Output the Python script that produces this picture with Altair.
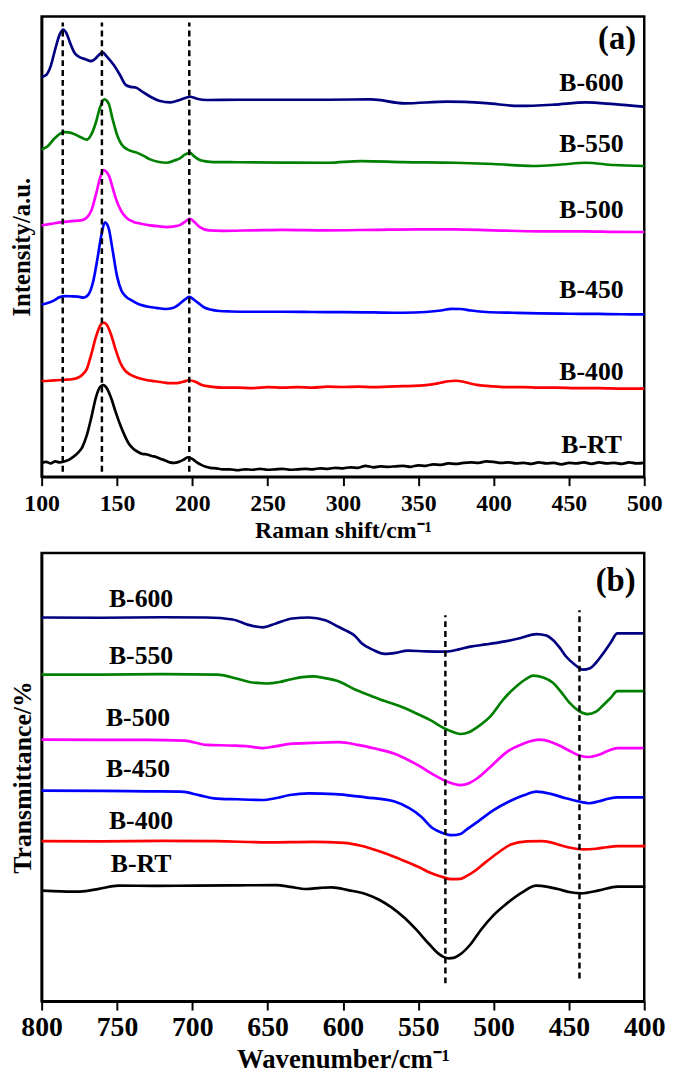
import altair as alt
import pandas as pd

series_names = ["B-RT", "B-400", "B-450", "B-500", "B-550", "B-600"]
series_colors = ["#000000", "#ff0000", "#0000ff", "#ff00ff", "#008000", "#000080"]

# ---------------- (a) Raman spectra: (Raman shift, intensity a.u. incl. offset) ----------------
raman_brt = [(100,14),(103,15),(106,13.5),(109,15.5),(112,14.5),(115,15.5),(118,17),(121,20),(124,24),(127,30),
             (130,42),(133,60),(136,80),(139,91),(141,92.5),(143,90),(146,80),(149,66),(152,53),(155,42),(158,33),
             (161,28),(164,25),(167,23),(170,22.5),(173,21),(176,20),(179,18),(182,16.5),(185,14.5),(188,14),
             (191,15),(194,17),(197,19.5),(200,18),(203,14.5),(206,12),(209,10),(212,9),(216,8.5),(220,7.5),
             (225,7.5),(230,6.5),(235,7.5),(240,7),(245,8),(250,7),(255,7.5),(260,8),(265,7),(270,7.5),(275,8),
             (280,7.5),(285,8.5),(290,8),(295,9),(300,8.5),(305,9.5),(310,9),(315,11),(320,9.5),(325,10.5),
             (330,10),(335,10.5),(340,11),(345,10),(350,11.5),(355,11),(360,12.5),(365,12),(370,13.5),(375,13),
             (380,14),(385,14.5),(390,14),(395,15.5),(400,15),(405,14),(410,14.5),(415,13.5),(420,14),(425,13),
             (430,14.5),(435,13.5),(440,14),(445,12.5),(450,14),(455,13.5),(460,14.5),(465,13),(470,14.5),
             (475,13.5),(480,14),(485,13),(490,14.5),(495,13.5),(500,14)]
raman_b400 = [(100,96.7),(105,97),(110,97.5),(115,98),(120,98.5),(124,100),(127,103),(130,109),(133,124),(136,141),
              (139,153),(141,155.7),(143,154),(146,144),(149,129),(152,116),(155,108),(158,104),(162,101),(166,99),
              (170,97.5),(175,96.5),(180,95.5),(185,94.5),(190,94.5),(194,96),(198,97.5),(202,96),(206,93),
              (210,91.5),(215,90.5),(220,90),(230,90),(240,89.5),(250,90.5),(260,90),(270,90.5),(280,90),(290,91),
              (300,90.7),(310,91),(320,90.5),(330,91),(340,91.5),(350,92),(358,93),(365,95),(370,96.5),(375,97),
              (380,96),(385,94),(390,92.5),(400,91.3),(410,90.5),(420,90.5),(430,90),(442,90),(455,89.5),
              (470,89.5),(485,89),(500,89)]
raman_b450 = [(100,174),(104,175.5),(108,178),(112,181.5),(116,182.5),(120,182.3),(124,182),(128,181),(131,184),
              (134,196),(137,220),(139.5,243),(142,257),(144.5,251),(147,230),(150,203),(153,188),(156,182),
              (160,178),(165,174),(170,172),(176,170.7),(182,169.5),(187,170.5),(191,174),(195,179),(198,181.7),
              (201,179),(204,175.5),(208,171),(212,169),(218,167.5),(225,167),(240,166.7),(260,166.7),(280,166.5),
              (300,166.3),(320,166),(340,165.7),(355,166.5),(365,168),(372,169.7),(378,169.5),(385,168),
              (395,166.5),(413,165.7),(430,165),(450,164.7),(470,164.5),(485,164.2),(500,164)]
raman_b500 = [(100,254),(106,255.5),(113,257.3),(120,258.3),(126,259),(130,262),(133,269),(136,285),(139,303),
              (141.2,310),(143,308),(145,303),(147.5,290),(150,278),(153,268),(157,260.7),(161,257.5),(166,255.7),
              (172,254),(178,253),(183,252.3),(188,253),(192,254.5),(195,257.5),(198.5,260.7),(201,258),
              (205,252.3),(211,249),(220,248.5),(240,249),(260,249.5),(290,249),(320,249.5),(350,250),(374,250),
              (400,249),(430,248),(460,248),(480,247.5),(500,247.3)]
raman_b550 = [(100,330.7),(104,334),(108,341),(112,346.5),(115,348.3),(118,348),(122,346),(126,343),(130,340.7),
              (133,346),(136,358),(138.5,372),(141.6,381.3),(144.5,377),(147,362),(150.4,344),(153,336),
              (157,330.7),(163.5,327.3),(168,324),(172,320.7),(178,318),(183,317.3),(188,319.5),(192,322),
              (195,325.5),(198.5,327.3),(201,324),(205,320),(210,318.5),(214,318),(230,317.8),(260,317.5),
              (290,317.3),(312,319),(340,318),(374,317.3),(400,316),(426,314),(445,315.5),(461,317.3),(480,315),
              (500,314)]
raman_b600 = [(100,404),(103,406),(106,415),(109,432),(112,447),(114.3,452),(116.5,448),(119,438),(122,428),
              (125.2,424),(129,422),(132.8,420),(136,423),(138.5,427),(140.5,429),(143,425),(147.9,416),(152,406),
              (155.8,396),(159,394),(162.4,393.3),(167,389),(172.2,384),(178,380),(185.4,378.3),(192,381),
              (198.5,384),(203,382),(209.5,380.7),(230,381),(260,381),(290,381),(318.7,381.3),(341,377.3),
              (369.3,379),(395,377.5),(417.2,374.7),(440,376),(461.2,378.3),(480,376.5),(499.3,374)]

raman_peaks = [114, 140, 198]
raman_label_shift = [465, 465, 465, 465, 465, 465]
raman_label_int = [32, 106, 189, 269, 336, 398]

# ---------------- (b) IR spectra: (wavenumber, transmittance incl. offset) ----------------
ir_brt = [(800,111.7),(787,111),(774.5,110.7),(762,113.5),(749,116.7),(725,116.5),(698,116.7),(670,117),
          (644.3,117.3),(635,115.5),(624.5,113.3),(615,114.5),(607.6,115),(596,112),(585,108.3),(576,102.5),
          (568,95),(559,84),(551,71.7),(543,58),(536.8,48.3),(533,44.5),(529.8,43.3),(526,44),(522.7,46.7),
          (515,58),(508.6,71.7),(500,87),(491.6,98.3),(481,110),(471.7,116.7),(464,115.5),(457.4,113.3),
          (449,110),(441.9,109),(430,112),(417.7,115.7),(399.3,115.7)]
ir_b400 = [(800,161.7),(760,161.5),(720,162),(683.9,161.7),(650,160.5),(620,161),(599,160),(588,157),
           (576.4,151.7),(566,146),(556.5,140),(549,135),(542.4,130),(535,126),(528.2,123.3),(522,123.5),
           (519.7,125),(512,132),(505.6,140),(497,150),(488.6,158.3),(478,161.5),(468.8,161.7),(462,160.5),
           (457.4,158.3),(449,155),(440.4,153.3),(432,154),(425,155.5),(417.7,156.7),(399.3,156.7)]
ir_b450 = [(800,212.7),(760,212.5),(730,212),(707.6,211.7),(695,208),(685.7,205),(670,204),(653.3,203.3),
           (645,205),(635.3,208.3),(622.7,210),(610,209.5),(603,209),(585,206),(565.7,201.7),(556,195),
           (548.2,186.7),(540.6,175),(534,170),(527.9,167.7),(522,169),(518,173.3),(510,182),(500,193),
           (489.7,201.7),(480,208),(471.6,211.7),(462,209.5),(452,205),(443.2,201.7),(436.6,200),(430,202),
           (424,204.5),(417.9,206),(400.5,206)]
ir_b500 = [(800,264.3),(760,264),(730,264),(705.4,263.3),(690.5,259),(673,258.3),(663,257.5),(653.3,255.7),
           (645,257.5),(635.3,260),(620,261),(603,261.7),(590,259),(578,255),(565.7,250),(557,244),(548.2,236.7),
           (540,229),(530.7,221.7),(522,218.3),(516,220.5),(511,225),(502,237),(491.3,251.7),(480,260.5),
           (469.4,264.3),(462,262),(456.3,258.3),(449,252.5),(443.2,248.3),(436.6,246.7),(430,249),(424,253),
           (417.9,255.7),(400.5,255.7)]
ir_b550 = [(800,330),(760,330),(720,330.5),(683.5,330),(668.2,325),(660,322),(650.6,321),(642,322.5),
           (635.3,325),(627,327.5),(620,328.3),(612,326.5),(603,323.3),(592,315),(582,309),(572.3,303.3),
           (562,298),(552.6,291.7),(542,284),(531.8,275),(526,271.5),(522,270),(516,272),(511,276.7),(502,288),
           (493.5,305),(485,318),(478,326),(473.8,329),(467,327),(460.6,321.7),(455,312),(449.7,301.7),
           (443,293),(437.6,290),(432,292.5),(427.8,298.3),(422,307),(417.9,313.3),(400.5,313.3)]
ir_b600 = [(800,387.7),(760,387.5),(720,388),(690.5,387.7),(673.2,385.7),(662.1,380),(653.3,377.7),
           (644.5,381.7),(633.6,386.7),(622.7,387.7),(611.7,385),(603,378.3),(598.6,375),(592,369),(587.6,361.7),
           (580,355),(572.3,351),(565,352),(557,354.3),(545,353.5),(531.8,353.3),(523,355.5),(515.4,358.3),
           (505,360.5),(493.5,363.3),(482,367),(471.6,371),(465,369.5),(460.6,365),(456,357),(451.9,348.3),
           (446,340),(440.9,335),(436,336.5),(432.2,341.7),(427,352),(422,363),(417.9,371.7),(410,371.7),
           (400.5,371.7)]

ir_peaks = [532, 443]
ir_peak_low = [18, 23]
ir_peak_high = [390, 395]
ir_label_wn = [734, 734, 736, 736, 734, 734]
ir_label_t = [139, 181.7, 234.3, 286, 348.3, 406]

top_ticks = list(range(100, 501, 25))
bottom_ticks = list(range(400, 801, 25))

FONT = "Liberation Serif"


def to_df(named, xname, yname):
    rows = []
    for name, pts in named:
        for x, y in pts:
            rows.append({xname: x, yname: y, "sample": name})
    return pd.DataFrame(rows)


raman_df = to_df(list(zip(series_names, [raman_brt, raman_b400, raman_b450, raman_b500, raman_b550, raman_b600])),
                 "shift", "val")
ir_df = to_df(list(zip(series_names, [ir_brt, ir_b400, ir_b450, ir_b500, ir_b550, ir_b600])), "shift", "val")

color_scale = alt.Scale(domain=series_names, range=series_colors)


def make_panel(df, xdomain, reverse, ticks, xtitle, ytitle, ydomain, tick_font, title_font, ytitle_font,
               label_pad, title_pad, ytitle_pad, rules_df, labels_df, tag_df, w, h):
    xscale = alt.Scale(domain=xdomain, nice=False, zero=False, reverse=reverse)
    yscale = alt.Scale(domain=ydomain, nice=False, zero=False)
    xaxis = alt.Axis(title=xtitle, values=ticks,
                     labelExpr="datum.value % 50 == 0 ? datum.label : ''",
                     tickSize={"condition": {"test": "datum.value % 50 == 0", "value": 9}, "value": 5},
                     labelOverlap=False, labelFlush=False, grid=False,
                     labelFontSize=tick_font, titleFontSize=title_font,
                     labelPadding=label_pad, titlePadding=title_pad)
    yaxis = alt.Axis(title=ytitle, labels=False, ticks=False, grid=False,
                     titleFontSize=ytitle_font, titlePadding=ytitle_pad)
    lines = alt.Chart(df).mark_line(strokeWidth=2.7, interpolate="monotone").encode(
        x=alt.X("shift:Q", scale=xscale, axis=xaxis),
        y=alt.Y("val:Q", scale=yscale, axis=yaxis),
        color=alt.Color("sample:N", scale=color_scale, legend=None),
        detail="sample:N",
    )
    rules = alt.Chart(rules_df).mark_rule(color="black", strokeWidth=2.5, strokeDash=[6, 4]).encode(
        x="shift:Q", y="val:Q", y2="val2:Q")
    texts = alt.Chart(labels_df).mark_text(font=FONT, fontWeight="bold", fontSize=26, color="black",
                                           align="center", baseline="middle").encode(
        x="shift:Q", y="val:Q", text="label:N")
    tag = alt.Chart(tag_df).mark_text(font=FONT, fontWeight="bold", fontSize=33, color="black",
                                      align="center", baseline="middle").encode(
        x="shift:Q", y="val:Q", text="label:N")
    return alt.layer(lines, rules, texts, tag).properties(width=w, height=h)


raman_rules = pd.DataFrame({"shift": raman_peaks, "val": [5] * 3, "val2": [459] * 3})
raman_labels = pd.DataFrame({"shift": raman_label_shift, "val": raman_label_int, "label": series_names})
raman_tag = pd.DataFrame({"shift": [482], "val": [442], "label": ["(a)"]})

ir_rules = pd.DataFrame({"shift": ir_peaks, "val": ir_peak_low, "val2": ir_peak_high})
ir_labels = pd.DataFrame({"shift": ir_label_wn, "val": ir_label_t, "label": series_names})
ir_tag = pd.DataFrame({"shift": [419], "val": [425], "label": ["(b)"]})

top = make_panel(raman_df, [100, 500], False, top_ticks, "Raman shift/cm⁻¹", "Intensity/a.u.", [0, 465],
                 24, 24, 25, 6, 3, 7, raman_rules, raman_labels, raman_tag, 609, 465)
bottom = make_panel(ir_df, [400, 800], True, bottom_ticks, "Wavenumber/cm⁻¹", "Transmittance/%", [0, 453],
                    28, 27, 26, 4, 5, 6, ir_rules, ir_labels, ir_tag, 609, 453)

chart = alt.vconcat(top, bottom, spacing=7).properties(
    padding={"left": 0, "top": 1, "right": 0, "bottom": 0}
).configure_view(stroke="black", strokeWidth=2.5).configure_axis(
    labelFont=FONT, titleFont=FONT, labelFontWeight="bold", titleFontWeight="bold",
    labelColor="black", titleColor="black", domainColor="black", tickColor="black",
    domainWidth=2.5, tickWidth=2
)

chart.save("out.html", embed_options={"renderer": "svg", "actions": False})
